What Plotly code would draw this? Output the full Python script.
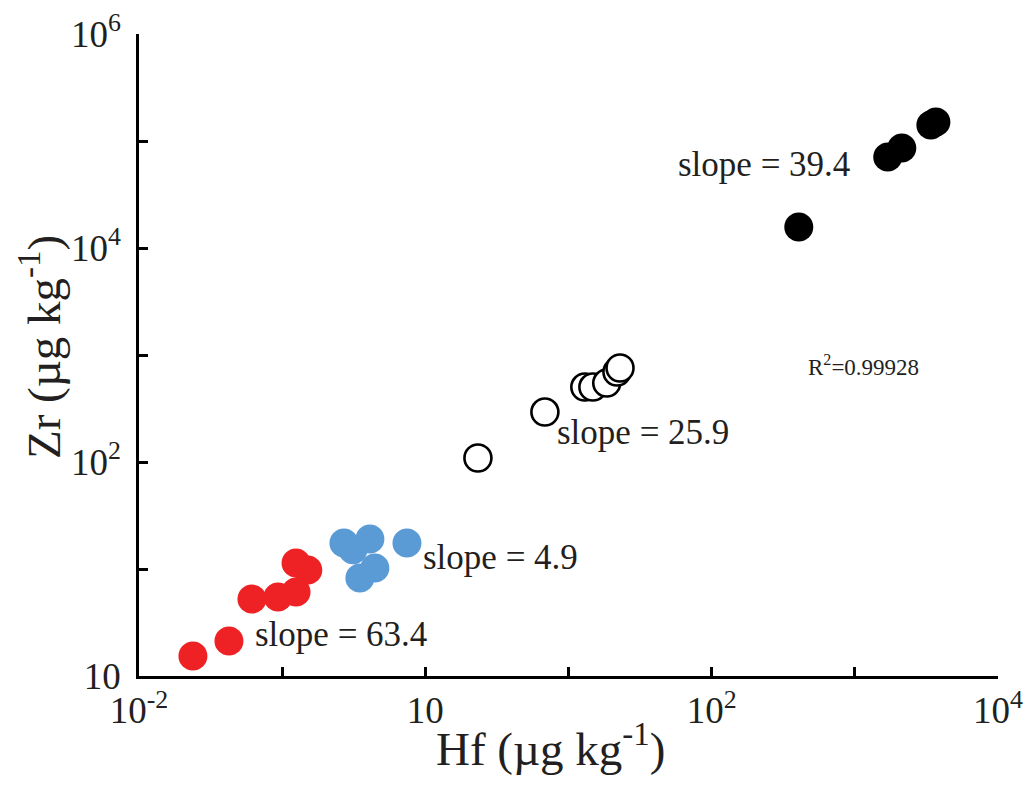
import plotly.graph_objects as go

# Hf and Zr concentrations (µg kg-1) for four sample groups
hf_red = [0.0238, 0.0425, 0.0615, 0.0935, 0.125, 0.125, 0.151]
zr_red = [1.54, 2.12, 5.24, 5.47, 6.1, 11.4, 9.8]

hf_blue = [0.270, 0.312, 0.410, 0.444, 0.349, 0.744]
zr_blue = [17.5, 15.1, 19.1, 10.2, 8.24, 17.5]

hf_open = [2.33, 6.84, 13.0, 14.8, 18.5, 21.8, 22.9]
zr_open = [109, 293, 502, 502, 547, 693, 756]

hf_black = [406, 1698, 2128, 3396, 3683]
zr_black = [15700, 70800, 86000, 141000, 150600]

x_tickvals = [1e-2, 1e-1, 1e0, 1e1, 1e2, 1e3, 1e4]
x_ticktext = ["10<sup>-2</sup>", "", "10", "", "10<sup>2</sup>", "", "10<sup>4</sup>"]
y_tickvals = [1e0, 1e1, 1e2, 1e3, 1e4, 1e5, 1e6]
y_ticktext = ["10", "", "10<sup>2</sup>", "", "10<sup>4</sup>", "", "10<sup>6</sup>"]

slope_labels = ["slope = 63.4", "slope = 4.9", "slope = 25.9", "slope = 39.4"]
r2_label = "R<sup>2</sup>=0.99928"

FONT = "Liberation Serif, Times New Roman, serif"
INK = "#231F20"

fig = go.Figure()
fig.add_trace(go.Scatter(x=hf_red, y=zr_red, mode="markers",
                         marker=dict(size=29, color="#EE2225", line=dict(width=0))))
fig.add_trace(go.Scatter(x=hf_blue, y=zr_blue, mode="markers",
                         marker=dict(size=29, color="#5B9BD5", line=dict(width=0))))
fig.add_trace(go.Scatter(x=hf_open, y=zr_open, mode="markers",
                         marker=dict(size=27, color="white", line=dict(width=2.6, color="black"))))
fig.add_trace(go.Scatter(x=hf_black, y=zr_black, mode="markers",
                         marker=dict(size=29, color="black", line=dict(width=0))))

W, H = 1028, 788
L, R, T, B = 139, 30, 34, 112
pw, ph = W - L - R, H - T - B


def px(x):
    return (x - L) / pw


def py(y):
    return (H - B - y) / ph


annotations = []
# slope labels (left edge, vertical centre) in pixel terms
label_pos = [(253, 634), (421, 557), (555, 432), (676, 164)]
for text, (xp, yp) in zip(slope_labels, label_pos):
    annotations.append(dict(text=text, x=px(xp), y=py(yp), xref="paper", yref="paper",
                            xanchor="left", yanchor="middle", showarrow=False,
                            font=dict(family=FONT, size=35, color=INK)))
annotations.append(dict(text=r2_label, x=px(806), y=py(365), xref="paper", yref="paper",
                        xanchor="left", yanchor="middle", showarrow=False,
                        font=dict(family=FONT, size=23, color=INK)))
# axis titles
annotations.append(dict(text="Hf (µg kg<sup>-1</sup>)", x=px(550), y=py(745), xref="paper",
                        yref="paper", xanchor="center", yanchor="middle", showarrow=False,
                        font=dict(family=FONT, size=47, color=INK)))
annotations.append(dict(text="Zr (µg kg<sup>-1</sup>)", x=px(40), y=py(347), xref="paper",
                        yref="paper", xanchor="center", yanchor="middle", showarrow=False,
                        textangle=-90, font=dict(family=FONT, size=47, color=INK)))

axis_common = dict(type="log", showgrid=False, zeroline=False, showline=True,
                   linecolor="black", linewidth=2.5, ticks="inside", ticklen=9,
                   tickwidth=2.5, tickcolor="black", mirror=False, automargin=False,
                   tickfont=dict(family=FONT, size=37, color=INK))

fig.update_layout(
    width=W, height=H,
    margin=dict(l=L, r=R, t=T, b=B, autoexpand=False),
    paper_bgcolor="white", plot_bgcolor="white",
    showlegend=False,
    xaxis=dict(range=[-2, 4], tickmode="array", tickvals=x_tickvals, ticktext=x_ticktext,
               ticklabelstandoff=0, **axis_common),
    yaxis=dict(range=[0, 6], tickmode="array", tickvals=y_tickvals, ticktext=y_ticktext,
               ticklabelstandoff=8, **axis_common),
    annotations=annotations,
)

fig.write_html("out.html")
